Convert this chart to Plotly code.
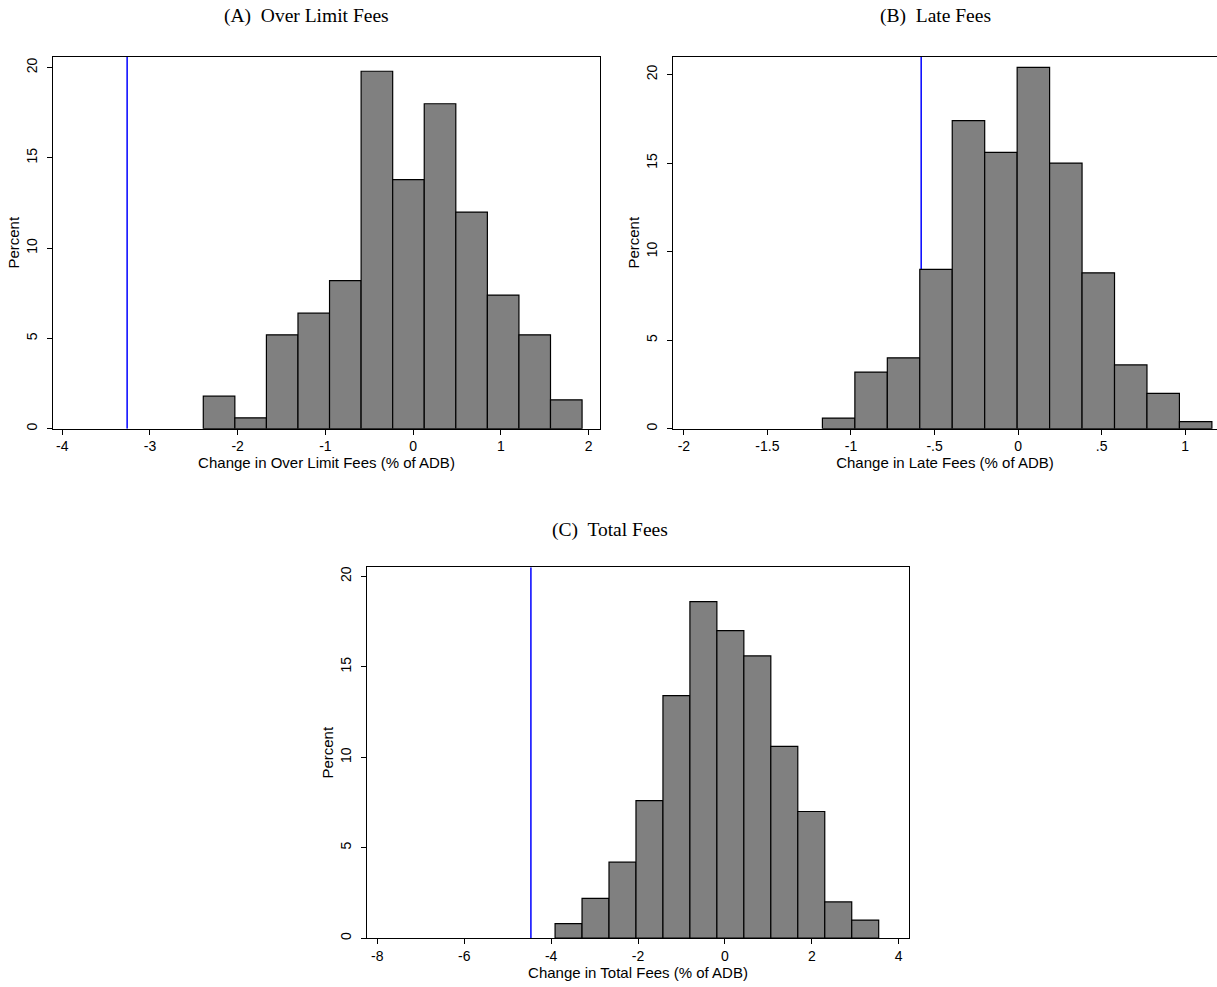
import plotly.graph_objects as go

W, H = 1217, 987

# ---------------- data ----------------
# Panel A: Over Limit Fees
a_bin_start = -2.392
a_bin_width = 0.3598
a_percent = [1.8, 0.6, 5.2, 6.4, 8.2, 19.8, 13.8, 18.0, 12.0, 7.4, 5.2, 1.6]
a_actual = -3.26

# Panel B: Late Fees
b_bin_start = -1.171
b_bin_width = 0.1942
b_percent = [0.6, 3.2, 4.0, 9.0, 17.4, 15.6, 20.4, 15.0, 8.8, 3.6, 2.0, 0.4]
b_actual = -0.58

# Panel C: Total Fees
c_bin_start = -3.909
c_bin_width = 0.6208
c_percent = [0.8, 2.2, 4.2, 7.6, 13.4, 18.6, 17.0, 15.6, 10.6, 7.0, 2.0, 1.0]
c_actual = -4.465

a_xticks = [-4, -3, -2, -1, 0, 1, 2]
a_xticklabels = ["-4", "-3", "-2", "-1", "0", "1", "2"]
b_xticks = [-2, -1.5, -1, -0.5, 0, 0.5, 1]
b_xticklabels = ["-2", "-1.5", "-1", "-.5", "0", ".5", "1"]
c_xticks = [-8, -6, -4, -2, 0, 2, 4]
c_xticklabels = ["-8", "-6", "-4", "-2", "0", "2", "4"]
y_ticks = [0, 5, 10, 15, 20]
y_ticklabels = ["0", "5", "10", "15", "20"]

titles = ["(A)  Over Limit Fees", "(B)  Late Fees", "(C)  Total Fees"]
xtitles = ["Change in Over Limit Fees (% of ADB)",
           "Change in Late Fees (% of ADB)",
           "Change in Total Fees (% of ADB)"]
ytitle = "Percent"

# ---------------- layout geometry (pixels) ----------------
panels = [
    dict(px=(53, 600), py=(56, 429), xr=(-4.105, 2.13), yr=(0, 20.6),
         start=a_bin_start, width=a_bin_width, vals=a_percent, thr=a_actual,
         xt=a_xticks, xtl=a_xticklabels, mirror_y=True),
    dict(px=(673, 1217), py=(56, 429), xr=(-2.065, 1.19), yr=(0, 21.0),
         start=b_bin_start, width=b_bin_width, vals=b_percent, thr=b_actual,
         xt=b_xticks, xtl=b_xticklabels, mirror_y=False),
    dict(px=(367, 909), py=(568, 940), xr=(-8.238, 4.238), yr=(0, 20.5),
         start=c_bin_start, width=c_bin_width, vals=c_percent, thr=c_actual,
         xt=c_xticks, xtl=c_xticklabels, mirror_y=True),
]
title_pos = [(306, 15), (935, 15), (610, 531)]

fig = go.Figure()
tick_font = dict(family="Liberation Sans, Arial, sans-serif", size=14, color="black")
axtitle_font = dict(family="Liberation Sans, Arial, sans-serif", size=15, color="black")

layout = dict(
    width=W, height=H,
    margin=dict(l=0, r=0, t=0, b=0),
    paper_bgcolor="white", plot_bgcolor="white",
    showlegend=False,
    shapes=[], annotations=[],
)

for i, p in enumerate(panels):
    sfx = "" if i == 0 else str(i + 1)
    xa, ya = "x" + sfx, "y" + sfx
    centers = [p["start"] + p["width"] * (k + 0.5) for k in range(len(p["vals"]))]
    fig.add_trace(go.Bar(
        x=centers, y=p["vals"], width=p["width"],
        marker=dict(color="#808080", line=dict(color="black", width=1.2)),
        xaxis=xa, yaxis=ya, hoverinfo="x+y",
    ))
    dx = [p["px"][0] / W, p["px"][1] / W]
    dy = [1 - p["py"][1] / H, 1 - p["py"][0] / H]
    layout["xaxis" + sfx] = dict(
        domain=dx, range=list(p["xr"]), anchor=ya,
        tickmode="array", tickvals=p["xt"], ticktext=p["xtl"],
        ticks="outside", ticklen=5, tickcolor="black", tickwidth=1,
        showline=True, linecolor="black", linewidth=1, mirror=True,
        showgrid=False, zeroline=False, tickfont=tick_font,
        title=dict(text=xtitles[i], font=axtitle_font, standoff=2),
    )
    layout["yaxis" + sfx] = dict(
        domain=dy, range=list(p["yr"]), anchor=xa,
        tickmode="array", tickvals=y_ticks, ticktext=y_ticklabels,
        ticks="outside", ticklen=5, tickcolor="black", tickwidth=1,
        showline=True, linecolor="black", linewidth=1, mirror=p["mirror_y"],
        showgrid=False, zeroline=False, tickfont=tick_font, tickangle=-90,
        ticklabelstandoff=4,
        title=dict(text=ytitle, font=axtitle_font, standoff=1),
    )
    layout["shapes"].append(dict(
        type="line", xref=xa, yref=ya, layer="below",
        x0=p["thr"], x1=p["thr"], y0=0, y1=p["yr"][1],
        line=dict(color="#0000ff", width=1.5),
    ))
    tx, ty = title_pos[i]
    layout["annotations"].append(dict(
        text=titles[i], xref="paper", yref="paper",
        x=tx / W, y=1 - ty / H, xanchor="center", yanchor="middle",
        showarrow=False,
        font=dict(family="Liberation Serif, Times New Roman, serif", size=19.5, color="black"),
    ))

fig.update_layout(**layout)
fig.write_html("out.html")
